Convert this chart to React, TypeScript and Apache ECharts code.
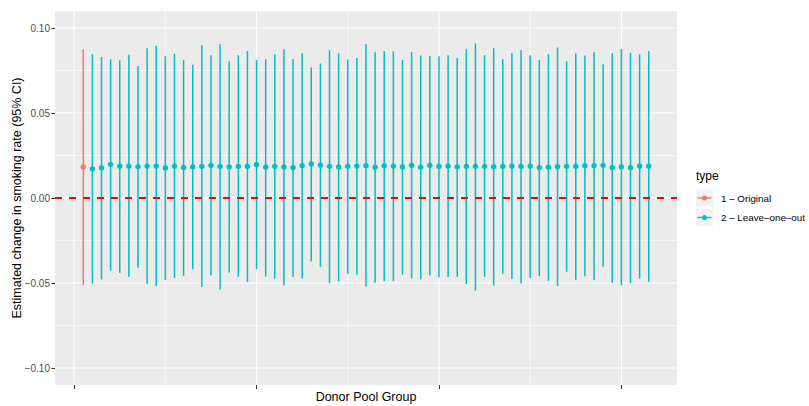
import React, { useEffect, useRef } from "react";
import * as echarts from "echarts";

// ---- Data ----
const originalX = [1];
const originalEst = [0.0183];
const originalLo = [-0.0512];
const originalHi = [0.0875];

const looX = [
  2, 3, 4, 5, 6, 7, 8, 9, 10, 11, 12, 13, 14, 15, 16, 17, 18, 19, 20, 21,
  22, 23, 24, 25, 26, 27, 28, 29, 30, 31, 32, 33, 34, 35, 36, 37, 38, 39, 40, 41, 42, 43,
  44, 45, 46, 47, 48, 49, 50, 51, 52, 53, 54, 55, 56, 57, 58, 59, 60, 61, 62, 63,
];
const looEst = [
  0.0171, 0.0177, 0.0198, 0.0188, 0.0188, 0.0184, 0.0188, 0.0188, 0.0177, 0.0188,
  0.0179, 0.0183, 0.0186, 0.0192, 0.0186, 0.0183, 0.0186, 0.0186, 0.0196, 0.0181,
  0.0186, 0.0183, 0.0179, 0.019, 0.02, 0.0194, 0.0186, 0.0183, 0.0186, 0.0188,
  0.019, 0.0181, 0.019, 0.0188, 0.0183, 0.0192, 0.0181, 0.0192, 0.0186, 0.0188,
  0.0183, 0.0186,
  0.0186, 0.0186, 0.0184, 0.0186, 0.0188, 0.0186, 0.0188, 0.0179, 0.0181, 0.0184,
  0.0186, 0.0186, 0.019, 0.019, 0.0192, 0.0179, 0.0183, 0.0179, 0.0188, 0.0188,
];
const looHi = [
  0.0846, 0.083, 0.0817, 0.0811, 0.0842, 0.0776, 0.0881, 0.0895, 0.0834, 0.0848,
  0.0811, 0.0783, 0.0899, 0.084, 0.0905, 0.0803, 0.084, 0.0865, 0.0811, 0.0817,
  0.0846, 0.0875, 0.0817, 0.0852, 0.0768, 0.0791, 0.0869, 0.085, 0.0815, 0.0824,
  0.0905, 0.0858, 0.0864, 0.0864, 0.0813, 0.0858, 0.0838, 0.0836, 0.0834, 0.084,
  0.0824, 0.0875,
  0.0909, 0.084, 0.0881, 0.0817, 0.0852, 0.0869, 0.084, 0.0811, 0.0846, 0.0885,
  0.0805, 0.085, 0.0838, 0.0858, 0.0787, 0.0852, 0.0877, 0.0854, 0.0846, 0.0865,
];
const looLo = [
  -0.0503, -0.0479, -0.0427, -0.0441, -0.0465, -0.041, -0.0506, -0.0518, -0.0483, -0.0471,
  -0.0458, -0.0419, -0.0524, -0.0456, -0.0538, -0.0438, -0.0465, -0.0495, -0.0419, -0.0462,
  -0.0473, -0.0514, -0.0464, -0.0473, -0.0374, -0.0405, -0.0501, -0.0489, -0.0446, -0.0452,
  -0.052,
  -0.0499, -0.0489, -0.0489, -0.045, -0.0473, -0.0479, -0.0456, -0.0467, -0.0465, -0.0465,
  -0.0506, -0.0544, -0.0465, -0.0516, -0.0446, -0.0477, -0.0503, -0.0471, -0.046, -0.0487,
  -0.0518, -0.0434, -0.0481, -0.046, -0.0483, -0.0403, -0.0499, -0.0514, -0.0501, -0.0475,
  -0.0493,
];

const seriesNames = ["1 – Original", "2 – Leave–one–out"];
const seriesColors = ["#F8766D", "#00BFC4"];
const legendTitle = "type";

const yTickValues = [-0.1, -0.05, 0, 0.05, 0.1];
const yTickLabels = ["−0.10", "−0.05", "0.00", "0.05", "0.10"];
const yMinorValues = [-0.075, -0.025, 0.025, 0.075];
const xTickValues = [0, 20, 40, 60];
const xMinorValues = [10, 30, 50];
const refLineValue = [0];

const xTitle = "Donor Pool Group";
const yTitle = "Estimated change in smoking rate (95% CI)";

const FONT = "'Liberation Sans', Arial, Helvetica, sans-serif";

function vGrid(width: number) {
  return (params: any, api: any) => {
    const cs = params.coordSys;
    const p = api.coord([api.value(0), 0]);
    return {
      type: "line",
      shape: { x1: p[0], y1: cs.y, x2: p[0], y2: cs.y + cs.height },
      style: { stroke: "#FFFFFF", lineWidth: width },
      silent: true,
    };
  };
}
function hGrid(width: number, color: string, dash?: number[]) {
  return (params: any, api: any) => {
    const cs = params.coordSys;
    const p = api.coord([0, api.value(0)]);
    return {
      type: "line",
      shape: { x1: cs.x, y1: p[1], x2: cs.x + cs.width, y2: p[1] },
      style: { stroke: color, lineWidth: width, lineDash: dash || null },
      silent: true,
    };
  };
}
function errBar(color: string) {
  return (params: any, api: any) => {
    const a = api.coord([api.value(0), api.value(2)]);
    const b = api.coord([api.value(0), api.value(1)]);
    return {
      type: "line",
      shape: { x1: a[0], y1: a[1], x2: b[0], y2: b[1] },
      style: { stroke: color, lineWidth: 1.5 },
    };
  };
}

export default function App() {
  const ref = useRef<HTMLDivElement>(null);
  useEffect(() => {
    if (!ref.current) return;
    const chart = echarts.init(ref.current, null, { renderer: "svg" });

    const origBars = originalX.map((x, i) => [x, originalLo[i], originalHi[i]]);
    const looBars = looX.map((x, i) => [x, looLo[i], looHi[i]]);
    const origPts = originalX.map((x, i) => [x, originalEst[i]]);
    const looPts = looX.map((x, i) => [x, looEst[i]]);

    const legendX = 696;
    const rowY = [198, 217.5];

    const option: any = {
      animation: false,
      textStyle: { fontFamily: FONT },
      grid: {
        left: 55,
        right: 132,
        top: 11,
        bottom: 21,
        show: true,
        backgroundColor: "#EBEBEB",
        borderWidth: 0,
        containLabel: false,
        outerBoundsMode: "none",
      },
      xAxis: {
        type: "value",
        min: -2.1,
        max: 66.1,
        axisLine: { show: false, onZero: false },
        axisTick: {
          show: true,
          customValues: xTickValues,
          length: 4,
          lineStyle: { color: "#333333", width: 1 },
        },
        axisLabel: { show: false },
        splitLine: { show: false },
        name: xTitle,
        nameLocation: "middle",
        nameGap: 5,
        nameMoveOverlap: false,
        nameTextStyle: { fontSize: 12.5, color: "#000000", fontFamily: FONT, verticalAlign: "top" },
      },
      yAxis: {
        type: "value",
        min: -0.11,
        max: 0.11,
        axisLine: { show: false, onZero: false },
        axisTick: {
          show: true,
          customValues: yTickValues,
          length: 3.5,
          lineStyle: { color: "#333333", width: 1 },
        },
        axisLabel: {
          show: true,
          customValues: yTickValues,
          margin: 5,
          fontSize: 10,
          color: "#4D4D4D",
          fontFamily: FONT,
          formatter: (v: number) => {
            const i = yTickValues.findIndex((t) => Math.abs(t - v) < 1e-9);
            return i >= 0 ? yTickLabels[i] : "";
          },
        },
        splitLine: { show: false },
        name: yTitle,
        nameLocation: "middle",
        nameGap: 38,
        nameMoveOverlap: false,
        nameTextStyle: { fontSize: 12.5, color: "#000000", fontFamily: FONT, verticalAlign: "middle" },
      },
      series: [
        { type: "custom", name: "xminor", data: xMinorValues.map((v) => [v]), renderItem: vGrid(0.6), z: 1, silent: true },
        { type: "custom", name: "yminor", data: yMinorValues.map((v) => [v]), renderItem: hGrid(0.6, "#FFFFFF"), z: 1, silent: true, encode: { y: 0 } },
        { type: "custom", name: "xmajor", data: xTickValues.map((v) => [v]), renderItem: vGrid(1.2), z: 1, silent: true },
        { type: "custom", name: "ymajor", data: yTickValues.map((v) => [v]), renderItem: hGrid(1.2, "#FFFFFF"), z: 1, silent: true, encode: { y: 0 } },
        { type: "custom", name: seriesNames[0], data: origBars, renderItem: errBar(seriesColors[0]), z: 3, encode: { x: 0, y: [1, 2] } },
        { type: "custom", name: seriesNames[1], data: looBars, renderItem: errBar(seriesColors[1]), z: 3, encode: { x: 0, y: [1, 2] } },
        { type: "scatter", name: seriesNames[0], data: origPts, symbolSize: 5.5, itemStyle: { color: seriesColors[0], opacity: 1 }, z: 4 },
        { type: "scatter", name: seriesNames[1], data: looPts, symbolSize: 5.5, itemStyle: { color: seriesColors[1], opacity: 1 }, z: 4 },
        { type: "custom", name: "ref", data: refLineValue.map((v) => [v]), renderItem: hGrid(2, "#FF0000", [7, 7]), z: 5, silent: true, encode: { y: 0 } },
      ],
      graphic: [
        {
          type: "text",
          left: legendX,
          top: 170,
          style: { text: legendTitle, fontSize: 12, fill: "#000000", fontFamily: FONT },
        },
        ...seriesNames.flatMap((name, i) => [
          {
            type: "rect",
            shape: { x: legendX, y: rowY[i] - 8.5, width: 17, height: 17 },
            style: { fill: "#F2F2F2" },
          },
          {
            type: "line",
            shape: { x1: legendX + 1.5, y1: rowY[i], x2: legendX + 15.5, y2: rowY[i] },
            style: { stroke: seriesColors[i], lineWidth: 1.4 },
          },
          {
            type: "circle",
            shape: { cx: legendX + 8.5, cy: rowY[i], r: 2.5 },
            style: { fill: seriesColors[i] },
          },
          {
            type: "text",
            x: legendX + 25,
            y: rowY[i],
            style: {
              text: name,
              fontSize: 9.8,
              fill: "#000000",
              fontFamily: FONT,
              verticalAlign: "middle",
              align: "left",
            },
          },
        ]),
      ],
    };
    chart.setOption(option);
    return () => chart.dispose();
  }, []);
  return (
    <div
      ref={ref}
      style={{ position: "absolute", left: 0, top: 0, width: 809, height: 406 }}
    />
  );
}
